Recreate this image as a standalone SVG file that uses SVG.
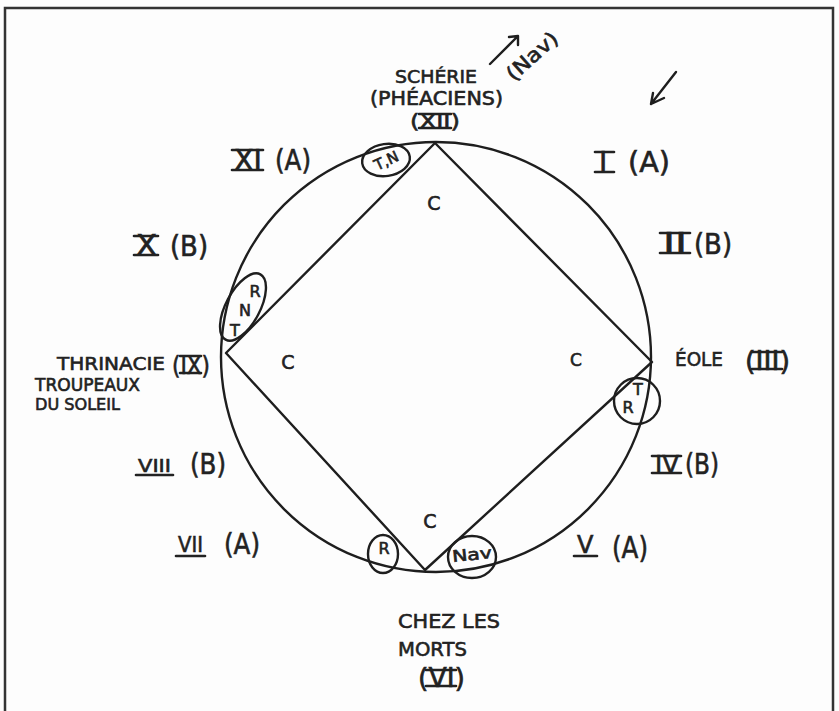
<svg xmlns="http://www.w3.org/2000/svg" width="839" height="711" viewBox="0 0 839 711">
<style>
.hw{font-family:"DejaVu Sans","Liberation Sans",sans-serif;fill:#222;stroke:#222;stroke-width:0.6}
.ln{fill:none;stroke:#1e1e1e;stroke-width:2.4;stroke-linecap:round;stroke-linejoin:round}
.bar{stroke:#222;stroke-width:2.6;stroke-linecap:round}
.sm{font-size:16px}
</style>
<rect x="0" y="0" width="839" height="711" fill="#fdfdfd"/>
<path d="M5,711 V8 H833 V711" fill="none" stroke="#333" stroke-width="2.5"/>

<g id="connectors">
  <circle class="ln" cx="436" cy="357" r="215"/>
  <polygon class="ln" points="435,143 652,362 425,570 226,353"/>
  <path class="ln" d="M490,64 L518,36 M509,37 L518,36 L518,45"/>
  <path class="ln" d="M676,72 L651,104 M653,93 L651,104 L664,98"/>
</g>

<g id="scherie">
  <text class="hw" x="395" y="83" font-size="18" textLength="82" lengthAdjust="spacingAndGlyphs">SCHÉRIE</text>
  <text class="hw" x="370" y="105" font-size="19" textLength="133" lengthAdjust="spacingAndGlyphs">(PHÉACIENS)</text>
  <text class="hw" x="410" y="128" font-size="20" textLength="50" lengthAdjust="spacingAndGlyphs">(XII)</text>
  <line class="bar" x1="419" y1="114" x2="451" y2="114"/>
  <line class="bar" x1="419" y1="128" x2="451" y2="128"/>
</g>

<g id="nav-label">
  <text class="hw" x="532" y="63" font-size="20" text-anchor="middle" textLength="62" lengthAdjust="spacingAndGlyphs" transform="rotate(-42 532 56)">(Nav)</text>
</g>

<g id="tn">
  <ellipse class="ln" cx="386" cy="160" rx="24" ry="16" transform="rotate(-8 386 160)"/>
  <text class="hw" font-size="15" x="386" y="166" text-anchor="middle" transform="rotate(-25 386 160)">T,N</text>
</g>

<g id="xi">
  <text class="hw" x="234" y="170" font-size="28" textLength="28" lengthAdjust="spacingAndGlyphs">XI</text>
  <line class="bar" x1="232" y1="150" x2="263" y2="150"/>
  <line class="bar" x1="232" y1="170" x2="263" y2="170"/>
  <text class="hw" x="275" y="170" font-size="28" textLength="36" lengthAdjust="spacingAndGlyphs">(A)</text>
</g>

<g id="i">
  <text class="hw" x="599" y="172" font-size="28">I</text>
  <line class="bar" x1="595" y1="152" x2="614" y2="152"/>
  <line class="bar" x1="595" y1="172" x2="614" y2="172"/>
  <text class="hw" x="628" y="172" font-size="28" textLength="42" lengthAdjust="spacingAndGlyphs">(A)</text>
</g>

<g id="ii">
  <text class="hw" x="663" y="253" font-size="28" textLength="24" lengthAdjust="spacingAndGlyphs">II</text>
  <line class="bar" x1="660" y1="233" x2="690" y2="233"/>
  <line class="bar" x1="660" y1="253" x2="690" y2="253"/>
  <text class="hw" x="694" y="254" font-size="28" textLength="38" lengthAdjust="spacingAndGlyphs">(B)</text>
</g>

<g id="x">
  <text class="hw" x="136" y="255" font-size="28" textLength="21" lengthAdjust="spacingAndGlyphs">X</text>
  <line class="bar" x1="134" y1="236" x2="158" y2="236"/>
  <line class="bar" x1="134" y1="255" x2="158" y2="255"/>
  <text class="hw" x="170" y="256" font-size="28" textLength="38" lengthAdjust="spacingAndGlyphs">(B)</text>
</g>

<g id="rnt">
  <ellipse class="ln" cx="243" cy="307" rx="37" ry="17" transform="rotate(-62 243 307)"/>
  <text class="hw sm" x="255" y="297" text-anchor="middle">R</text>
  <text class="hw sm" x="245" y="316" text-anchor="middle">N</text>
  <text class="hw sm" x="235" y="336" text-anchor="middle">T</text>
</g>

<g id="thrinacie">
  <text class="hw" x="57" y="370" font-size="18" textLength="108" lengthAdjust="spacingAndGlyphs">THRINACIE</text>
  <text class="hw" x="172" y="374" font-size="25" textLength="38" lengthAdjust="spacingAndGlyphs">(IX)</text>
  <line class="bar" x1="180" y1="356" x2="201" y2="356"/>
  <line class="bar" x1="180" y1="373" x2="201" y2="373"/>
  <text class="hw" x="35" y="391" font-size="17" textLength="105" lengthAdjust="spacingAndGlyphs">TROUPEAUX</text>
  <text class="hw" x="35" y="410" font-size="16" textLength="85" lengthAdjust="spacingAndGlyphs">DU SOLEIL</text>
</g>

<g id="eole">
  <text class="hw" x="675" y="366" font-size="20" textLength="48" lengthAdjust="spacingAndGlyphs">ÉOLE</text>
  <text class="hw" x="745" y="370" font-size="26" textLength="45" lengthAdjust="spacingAndGlyphs">(III)</text>
  <line class="bar" x1="752" y1="352" x2="782" y2="352"/>
  <line class="bar" x1="752" y1="369" x2="782" y2="369"/>
</g>

<g id="rt">
  <circle class="ln" cx="637" cy="401" r="23"/>
  <text class="hw sm" x="638" y="395" text-anchor="middle">T</text>
  <text class="hw sm" x="628" y="413" text-anchor="middle">R</text>
</g>

<g id="iv">
  <text class="hw" x="655" y="473" font-size="25" textLength="24" lengthAdjust="spacingAndGlyphs">IV</text>
  <line class="bar" x1="652" y1="456" x2="681" y2="456"/>
  <line class="bar" x1="652" y1="473" x2="681" y2="473"/>
  <text class="hw" x="685" y="474" font-size="28" textLength="34" lengthAdjust="spacingAndGlyphs">(B)</text>
</g>

<g id="viii">
  <text class="hw" x="138" y="472" font-size="18" textLength="33" lengthAdjust="spacingAndGlyphs">VIII</text>
  <line class="bar" x1="136" y1="475" x2="173" y2="475"/>
  <text class="hw" x="190" y="474" font-size="28" textLength="36" lengthAdjust="spacingAndGlyphs">(B)</text>
</g>

<g id="vii">
  <text class="hw" x="178" y="552" font-size="22" textLength="25" lengthAdjust="spacingAndGlyphs">VII</text>
  <line class="bar" x1="176" y1="556" x2="205" y2="556"/>
  <text class="hw" x="224" y="554" font-size="28" textLength="36" lengthAdjust="spacingAndGlyphs">(A)</text>
</g>

<g id="r-bottom">
  <ellipse class="ln" cx="383" cy="554" rx="15" ry="19"/>
  <text class="hw sm" x="384" y="554" text-anchor="middle">R</text>
</g>

<g id="nav-bottom">
  <ellipse class="ln" cx="472" cy="557" rx="24" ry="21"/>
  <text class="hw" font-size="16" x="472" y="560" text-anchor="middle" textLength="40" lengthAdjust="spacingAndGlyphs" transform="rotate(-6 472 555)">Nav</text>
</g>

<g id="v">
  <text class="hw" x="577" y="553" font-size="24">V</text>
  <line class="bar" x1="574" y1="556" x2="597" y2="556"/>
  <text class="hw" x="612" y="558" font-size="30" textLength="36" lengthAdjust="spacingAndGlyphs">(A)</text>
</g>

<g id="morts">
  <text class="hw" x="398" y="628" font-size="20" textLength="102" lengthAdjust="spacingAndGlyphs">CHEZ LES</text>
  <text class="hw" x="398" y="656" font-size="20" textLength="69" lengthAdjust="spacingAndGlyphs">MORTS</text>
  <text class="hw" x="418" y="687" font-size="26" textLength="47" lengthAdjust="spacingAndGlyphs">(VI)</text>
  <line class="bar" x1="426" y1="670" x2="456" y2="670"/>
  <line class="bar" x1="426" y1="686" x2="456" y2="686"/>
</g>

<g id="c-labels">
  <text class="hw" x="434" y="210" font-size="19" text-anchor="middle">C</text>
  <text class="hw" x="288" y="369" font-size="19" text-anchor="middle">C</text>
  <text class="hw" x="576" y="366" font-size="17" text-anchor="middle">C</text>
  <text class="hw" x="430" y="528" font-size="19" text-anchor="middle">C</text>
</g>
</svg>
